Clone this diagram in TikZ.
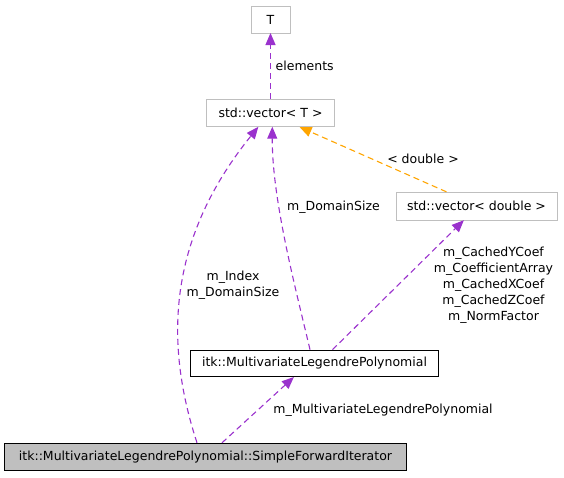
\documentclass[tikz,border=0pt]{standalone}
\usepackage{fontspec}
\setmainfont{DejaVu Sans}
\usepackage{xcolor}
\usepackage{tikz}
\usetikzlibrary{arrows.meta}

\definecolor{edgepurple}{HTML}{9A32CD}
\definecolor{edgeorange}{HTML}{FFA500}
\definecolor{boxgray}{HTML}{BFBFBF}

\begin{document}
\begin{tikzpicture}[
  x=1pt, y=-1pt,
  every node/.style={font=\fontsize{12.5pt}{16pt}\selectfont, inner sep=0pt},
  gbox/.style={draw=boxgray, line width=1pt, fill=white},
  kbox/.style={draw=black, line width=1pt, fill=white},
  cbox/.style={draw=black, line width=1pt, fill=boxgray},
  lbl/.style={align=center},
  parr/.style={draw=edgepurple, line width=1.1pt, dash pattern=on 6pt off 4pt, -{Triangle[length=12pt,width=10pt]}, shorten >=-0.5pt},
  oarr/.style={draw=edgeorange, line width=1.1pt, dash pattern=on 6pt off 4pt, -{Triangle[length=12pt,width=10pt]}, shorten >=-0.5pt},
]
\useasboundingbox (0,0) rectangle (564,477);

% classes
\node[gbox, minimum width=39pt, minimum height=27pt] (t) at (270.5,19.5) {T};
\node[gbox, minimum width=127.6pt, minimum height=27.4pt] (vect) at (270.5,113) {std::vector< T >};
\node[gbox, minimum width=161pt, minimum height=27.7pt] (vecd) at (476.5,206.2) {std::vector< double >};
\node[kbox, minimum width=247.6pt, minimum height=26.7pt] (mlp) at (314.5,363.5) {itk::MultivariateLegendrePolynomial};
\node[cbox, minimum width=401.4pt, minimum height=27.4pt] (sfi) at (205.5,457) {itk::MultivariateLegendrePolynomial::SimpleForwardIterator};

% edge labels
\node[lbl, anchor=west] (lelem) at (275.5,66) {elements};
\node[lbl] (ldbl) at (423,159) {< double >};
\node[lbl, anchor=west] (ldom) at (287,207) {m\_DomainSize};
\node[lbl] (lidx) at (233,285) {m\_Index\\m\_DomainSize};
\node[lbl] (lcoef) at (493.5,285) {m\_CachedYCoef\\m\_CoefficientArray\\m\_CachedXCoef\\m\_CachedZCoef\\m\_NormFactor};
\node[lbl] (lmlp) at (383,410) {m\_MultivariateLegendrePolynomial};

% connectors
\draw[parr] (vect.north) -- (t.south);
\draw[oarr] ([xshift=-30pt]vecd.north) -- ([xshift=29.5pt]vect.south);
\draw[parr] ([xshift=-4.5pt]mlp.north) .. controls (296,290) and (272,200) .. ([xshift=1.8pt]vect.south);
\draw[parr] ([xshift=18pt]mlp.north) -- ([xshift=-13pt]vecd.south);
\draw[parr] ([xshift=-8.5pt]sfi.north) .. controls (160,330) and (175,230) .. ([xshift=-12.5pt]vect.south);
\draw[parr] ([xshift=16.5pt]sfi.north) -- ([xshift=-21pt]mlp.south);
\end{tikzpicture}
\end{document}
